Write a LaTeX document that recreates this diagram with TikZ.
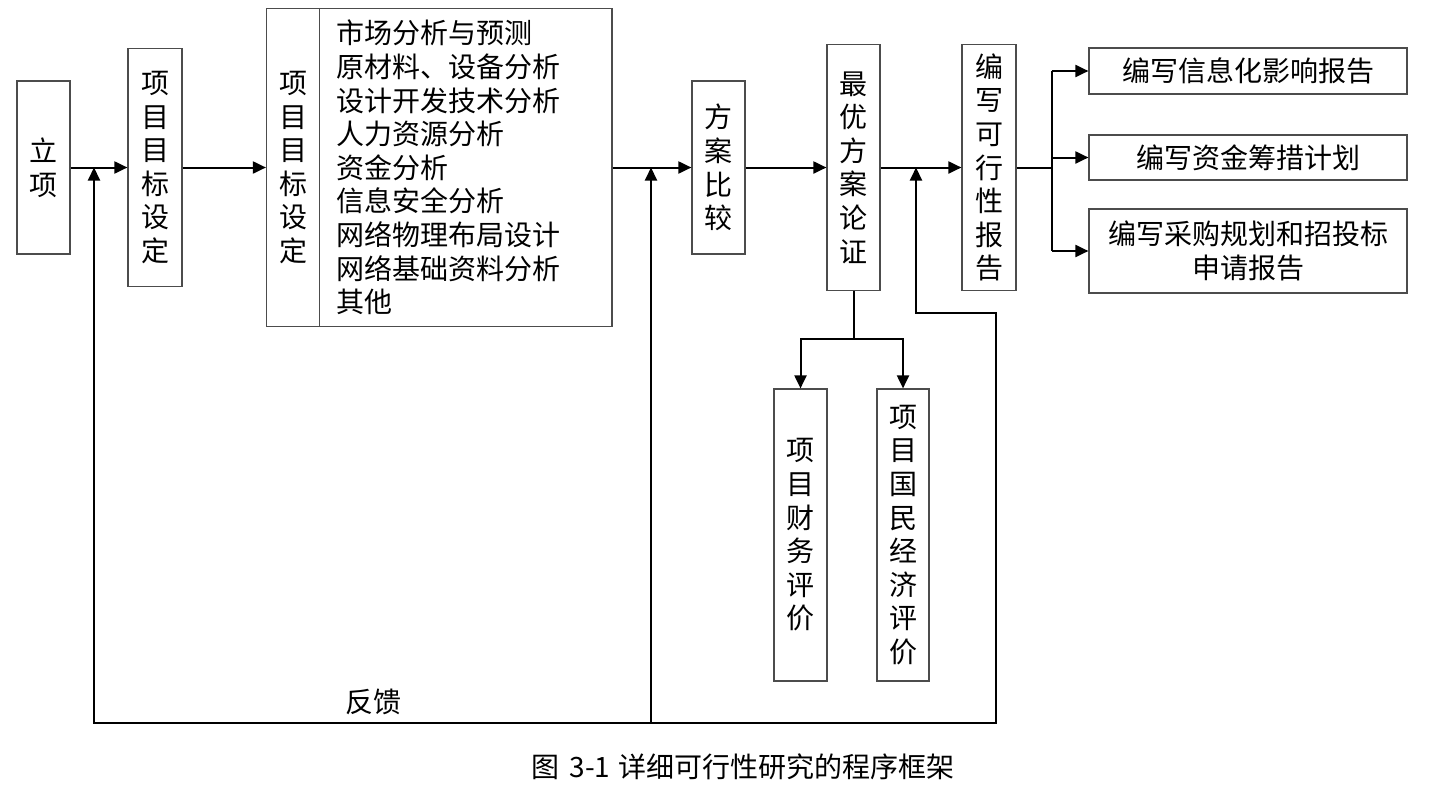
\documentclass[tikz,border=0pt]{standalone}
\usepackage{fontspec}
\setmainfont{Noto Sans CJK SC}
\usetikzlibrary{arrows.meta}
\begin{document}
\begin{tikzpicture}[x=1pt,y=-1pt,
  txt/.style={inner sep=0pt, align=center, font=\fontsize{28}{33.6}\selectfont, text=black},
  box/.style={txt, draw=black!70, line width=1.2pt},
  bdr/.style={draw=black!70, line width=1.2pt},
  ln/.style={line width=2pt},
  arr/.style={line width=2pt, -{Triangle[length=13pt,width=12pt]}},
  arrb/.style={line width=2pt, {Triangle[length=13pt,width=12pt]}-{Triangle[length=13pt,width=12pt]}}]
\useasboundingbox (0,0) rectangle (1431,798);

% boxes
\node[box, minimum width=53pt, minimum height=173pt] (lx) at (43.5,167.5) {立\\项};
\node[box, minimum width=54pt, minimum height=238pt] (g1) at (155,167.5) {项\\目\\目\\标\\设\\定};
\node[box, minimum width=345.5pt, minimum height=318pt] (big) at (439.25,167.5) {};
\draw[bdr] ([xshift=53.5pt]big.north west) -- ([xshift=53.5pt]big.south west);
\node[txt] (bigl) at (293,167.5) {项\\目\\目\\标\\设\\定};
\node[txt, align=left, anchor=west] (items) at (336,167.5) {市场分析与预测\\原材料、设备分析\\设计开发技术分析\\人力资源分析\\资金分析\\信息安全分析\\网络物理布局设计\\网络基础资料分析\\其他};
\node[box, minimum width=53pt, minimum height=173pt] (cmp) at (718.5,167.5) {方\\案\\比\\较};
\node[box, minimum width=53pt, minimum height=246pt] (opt) at (853.5,167.5) {最\\优\\方\\案\\论\\证};
\node[box, minimum width=54pt, minimum height=246pt] (rep) at (989,167.5) {编\\写\\可\\行\\性\\报\\告};
\node[box, minimum width=318pt, minimum height=46pt] (b1) at (1248,71) {编写信息化影响报告};
\node[box, minimum width=318pt, minimum height=45pt] (b2) at (1248,157.5) {编写资金筹措计划};
\node[box, minimum width=318pt, minimum height=84pt] (b3) at (1248,251) {编写采购规划和招投标\\申请报告};
\node[box, minimum width=53pt, minimum height=292pt] (f1) at (800.5,535) {项\\目\\财\\务\\评\\价};
\node[box, minimum width=52pt, minimum height=292pt] (f2) at (903,535) {项\\目\\国\\民\\经\\济\\评\\价};

% main flow
\draw[arr] (lx.east) -- (g1.west);
\draw[arr] (g1.east) -- (big.west);
\draw[arr] (big.east) -- (cmp.west);
\draw[arr] (cmp.east) -- (opt.west);
\draw[arr] (opt.east) -- (rep.west);

% branches to reports
\coordinate (br) at (1051.5,167.5);
\draw[ln] (rep.east) -- (br);
\draw[ln] (br |- b1.west) -- (br |- b3.west);
\draw[arr] (br |- b1.west) -- (b1.west);
\draw[arr] (br |- b2.west) -- (b2.west);
\draw[arr] (br |- b3.west) -- (b3.west);

% evaluation branches
\coordinate (bj) at (853.5,339);
\draw[ln] (opt.south) -- (bj);
\draw[arr] (bj) -| (f1.north);
\draw[arr] (bj) -| (f2.north);

% feedback
\coordinate (fbL) at (94,723);
\coordinate (fbM) at (651,723);
\coordinate (fbR) at (995.5,723);
\coordinate (rt) at (995.5,313);
\coordinate (up) at (916,313);
\draw[arrb] (up |- rep.west) -- (up) -- (rt) -- (fbR) -- (fbL) -- (fbL |- lx.east);
\draw[arr] (fbM) -- (fbM |- cmp.west);

% labels
\node[txt] (fb) at (373,702) {反馈};
\node[txt] (cap) at (743,767) {图\hspace{10pt}3-1\hspace{8pt}详细可行性研究的程序框架};
\end{tikzpicture}
\end{document}
